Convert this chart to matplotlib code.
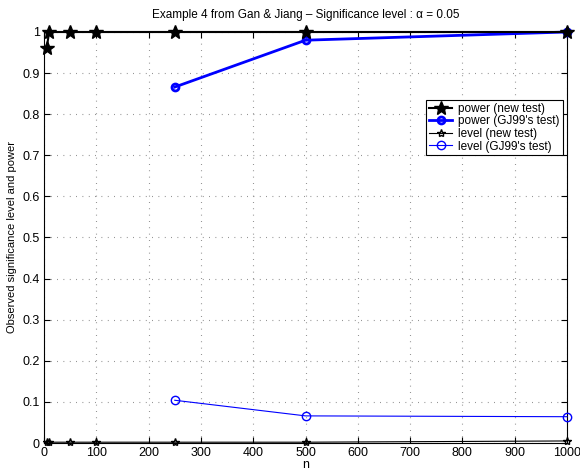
import matplotlib
matplotlib.use('Agg')
import matplotlib.pyplot as plt

plt.rcParams['font.family'] = ['Liberation Sans', 'DejaVu Sans']
plt.rcParams['font.size'] = 9

n_new = [5, 10, 50, 100, 250, 500, 1000]
power_new = [0.962, 1.0, 1.0, 1.0, 1.0, 1.0, 1.0]
level_new = [0.003, 0.002, 0.002, 0.002, 0.002, 0.002, 0.005]

n_gj = [250, 500, 1000]
power_gj = [0.866, 0.98, 1.0]
level_gj = [0.104, 0.066, 0.064]

fig = plt.figure(figsize=(5.8, 4.73), dpi=100)
ax = fig.add_axes([0.0759, 0.0634, 0.9017, 0.869])

ax.plot(n_new, power_new, '-*', color='k', lw=1.5, ms=10, clip_on=False, zorder=4,
        label='power (new test)')
ax.plot(n_gj, power_gj, '-o', color='b', lw=2, ms=5, mew=2, mfc='none', clip_on=False,
        zorder=3, label="power (GJ99's test)")
ax.plot(n_new, level_new, '-*', color='k', lw=0.8, ms=6, mfc='none', clip_on=False,
        zorder=4, label='level (new test)')
ax.plot(n_gj, level_gj, '-o', color='b', lw=0.8, ms=6, mfc='none', clip_on=False,
        zorder=3, label="level (GJ99's test)")

ax.set_xlim(0, 1000)
ax.set_ylim(0, 1)
ax.set_xticks(range(0, 1001, 100))
ax.set_yticks([i / 10 for i in range(11)])
ax.set_yticklabels(['0'] + ['%.1f' % (i / 10) for i in range(1, 10)] + ['1'])
ax.grid(True, ls=(0, (0.7, 5)), lw=0.8, color='#777777')
ax.tick_params(direction='in', length=4, top=True, right=True, pad=3)
ax.set_xlabel('n', labelpad=0)
ax.set_ylabel('Observed significance level and power', fontsize=8)
ax.set_title('Example 4 from Gan & Jiang \u2013 Significance level : \u03b1 = 0.05',
             fontsize=8.5, pad=10)

leg = ax.legend(loc='upper right', bbox_to_anchor=(0.992, 0.835), borderaxespad=0,
                fancybox=False, edgecolor='k', framealpha=1, fontsize=8.5,
                handlelength=2.0, borderpad=0.25, labelspacing=0.05, handletextpad=0.5)
leg.get_frame().set_linewidth(0.8)

fig.savefig('out.png', dpi=100)
